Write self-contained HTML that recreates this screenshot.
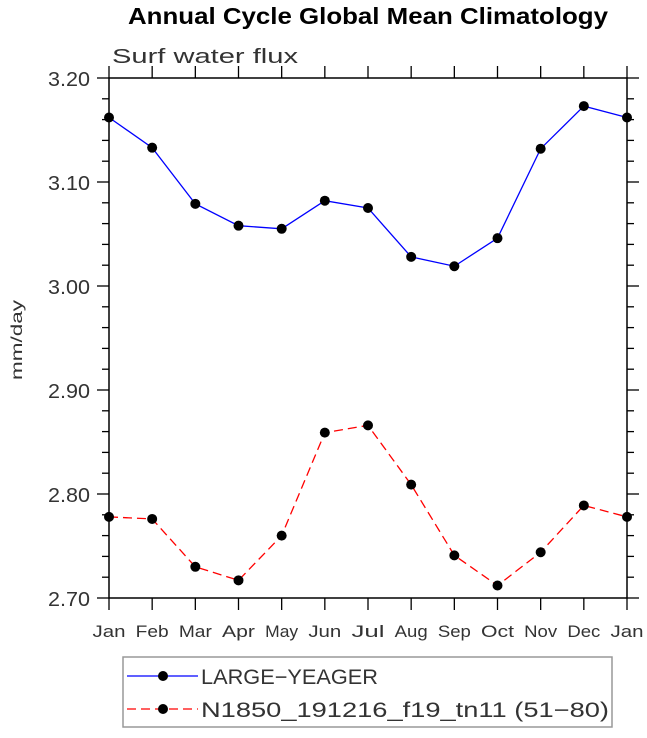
<!DOCTYPE html>
<html><head><meta charset="utf-8"><style>
body{margin:0;background:#fff;}
svg text{font-family:"Liberation Sans",sans-serif;}
</style></head><body>
<svg width="647" height="733" xmlns="http://www.w3.org/2000/svg">
<text x="128" y="24" font-size="23" font-weight="bold" textLength="480" lengthAdjust="spacingAndGlyphs">Annual Cycle Global Mean Climatology</text>
<text x="112" y="63" font-size="20" fill="#333" textLength="186" lengthAdjust="spacingAndGlyphs">Surf water flux</text>
<text transform="translate(22,340) rotate(-90)" text-anchor="middle" font-size="16" fill="#333" textLength="80" lengthAdjust="spacingAndGlyphs">mm/day</text>
<g id="axes"></g>
<g id="series"></g>
<g>
<rect x="123" y="657" width="489" height="70" fill="#fff" stroke="#999" stroke-width="1.5"/>
<g>
<line x1="127" y1="676" x2="198" y2="676" stroke="#0000ff" stroke-width="1.3"/>
<circle cx="163" cy="676" r="5" fill="#000"/>
<text x="201" y="684" font-size="21" fill="#333" textLength="177" lengthAdjust="spacingAndGlyphs">LARGE−YEAGER</text>
</g>
<g>
<line x1="127" y1="709" x2="198" y2="709" stroke="#ff0000" stroke-width="1.3" stroke-dasharray="9,5"/>
<circle cx="163" cy="709" r="5" fill="#000"/>
<text x="201" y="717" font-size="21" fill="#333" textLength="408" lengthAdjust="spacingAndGlyphs">N1850_191216_f19_tn11 (51−80)</text>
</g>
</g>
</svg>
<script>
const months=["Jan","Feb","Mar","Apr","May","Jun","Jul","Aug","Sep","Oct","Nov","Dec","Jan"];
const largeYeager=[3.162,3.133,3.079,3.058,3.055,3.082,3.075,3.028,3.019,3.046,3.132,3.173,3.162];
const n1850=[2.778,2.776,2.730,2.717,2.760,2.859,2.866,2.809,2.741,2.712,2.744,2.789,2.778];
const yTicks=["2.70","2.80","2.90","3.00","3.10","3.20"];
const NS="http://www.w3.org/2000/svg";
const L=109,R=627,T=78,B=598,yMin=2.7,yMax=3.2;
const xs=i=>L+(R-L)*i/(months.length-1);
const ys=v=>B-(v-yMin)/(yMax-yMin)*(B-T);
function mk(tag,attrs,parent){const e=document.createElementNS(NS,tag);for(const k in attrs)e.setAttribute(k,attrs[k]);parent.appendChild(e);return e;}
const ax=document.getElementById('axes');
const frame=mk('rect',{x:L,y:T,width:R-L,height:B-T,fill:'none',stroke:'#000','stroke-width':1.5},ax);


months.forEach((m,i)=>{
  const x=xs(i);
  mk('line',{x1:x,y1:B,x2:x,y2:B+12,stroke:'#000','stroke-width':1.3},ax);
  mk('line',{x1:x,y1:T,x2:x,y2:T-12,stroke:'#000','stroke-width':1.3},ax);
  const t=mk('text',{x:x,y:B+39,'text-anchor':'middle','font-size':17,fill:'#333',textLength:33,lengthAdjust:'spacingAndGlyphs'},ax);
  t.textContent=m;
  
  
});
for(let k=0;k<=25;k++){
  const v=yMin+k*0.02,y=ys(v),major=k%5===0,len=major?12:7;
  mk('line',{x1:L,y1:y,x2:L-len,y2:y,stroke:'#000','stroke-width':1.3},ax);
  mk('line',{x1:R,y1:y,x2:R+len,y2:y,stroke:'#000','stroke-width':1.3},ax);
}
yTicks.forEach(s=>{
  const t=mk('text',{x:48,y:ys(parseFloat(s))+8,'font-size':20,fill:'#333',textLength:42,lengthAdjust:'spacingAndGlyphs'},ax);
  t.textContent=s;
  
  
});
const sg=document.getElementById('series');
function series(data,color,dash,name){
  const g=mk('g',{},sg);
  
  
  const pts=data.map((v,i)=>xs(i)+','+ys(v)).join(' ');
  const a={points:pts,fill:'none',stroke:color,'stroke-width':1.3};
  if(dash)a['stroke-dasharray']=dash;
  mk('polyline',a,g);
  data.forEach((v,i)=>{
    const c=mk('circle',{cx:xs(i),cy:ys(v),r:5,fill:'#000'},g);
    
    
  });
}
series(largeYeager,'#0000ff',null,'series-large-yeager');
series(n1850,'#ff0000','9,5','series-n1850');
</script>
</body></html>
